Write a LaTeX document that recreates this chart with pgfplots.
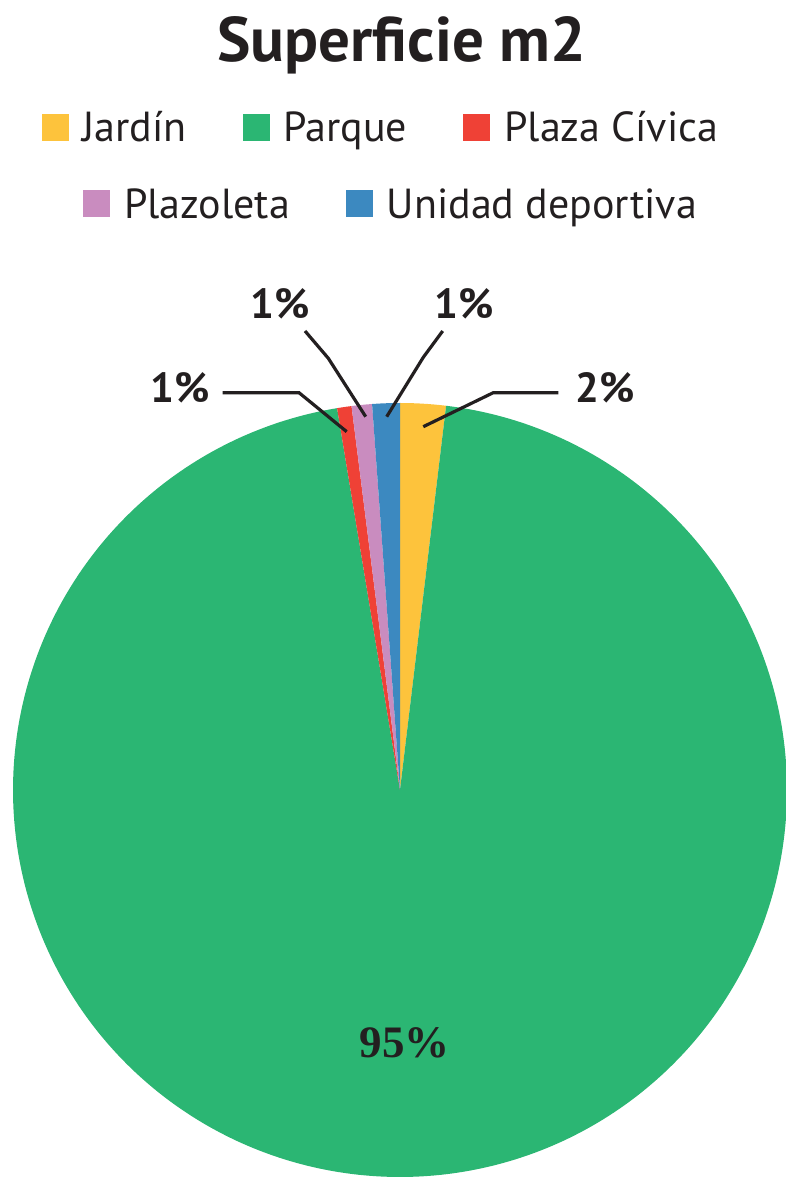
\documentclass[border=0pt]{standalone}
\usepackage{pgfplots}
\pgfplotsset{compat=1.18}
\usepackage{fontspec}
\setmainfont{PT Sans}
\newfontfamily\numserif{Liberation Serif}
\definecolor{cJ}{HTML}{FDC33C}
\definecolor{cP}{HTML}{2BB673}
\definecolor{cC}{HTML}{EF4136}
\definecolor{cZ}{HTML}{C98CBF}
\definecolor{cU}{HTML}{3C89C0}
\definecolor{txt}{HTML}{231F20}
% slice values (percent of total surface)
\def\vJ{1.9}   % Jardin
\def\vP{95.5}  % Parque
\def\vC{0.6}   % Plaza Civica
\def\vZ{0.85}  % Plazoleta
\def\vU{1.15}  % Unidad deportiva
\pgfmathsetmacro\aJ{90-3.6*\vJ}
\pgfmathsetmacro\aP{\aJ-3.6*\vP}
\pgfmathsetmacro\aC{\aP-3.6*\vC}
\pgfmathsetmacro\aZ{\aC-3.6*\vZ}
\pgfmathsetmacro\aU{\aZ-3.6*\vU}
\pgfplotsset{
  pieaxis/.style={
    hide axis, scale only axis,
    width=786pt, height=1177pt,
    xmin=0, xmax=786, ymin=-1177, ymax=0,
    clip=true,
    legend image code/.code={\fill[##1] (0pt,-13.5pt) rectangle (27pt,13.5pt);},
    legend style={draw=none, fill=none, inner sep=0pt, outer sep=0pt,
      font=\fontsize{42}{42}\selectfont, text=txt,
      nodes={inner sep=0pt},
      /tikz/every odd column/.append style={column sep=14pt},
      /tikz/every even column/.append style={column sep=56pt, text height=30pt, text depth=0pt}},
    legend cell align=left,
  }
}
\begin{document}
\begin{tikzpicture}
\begin{axis}[pieaxis, legend columns=3,
  legend style={at={(axis cs:41.5,-127.5)}, anchor=west}]
\addplot[draw=none, fill=cJ, forget plot, domain=\aJ:90, samples=30]
  ({400+387*cos(x)}, {-790+387*sin(x)}) -- (axis cs:400,-790) -- cycle;
\addplot[draw=none, fill=cP, forget plot, domain=\aP:\aJ, samples=400]
  ({400+387*cos(x)}, {-790+387*sin(x)}) -- (axis cs:400,-790) -- cycle;
\addplot[draw=none, fill=cC, forget plot, domain=\aC:\aP, samples=20]
  ({400+387*cos(x)}, {-790+387*sin(x)}) -- (axis cs:400,-790) -- cycle;
\addplot[draw=none, fill=cZ, forget plot, domain=\aZ:\aC, samples=20]
  ({400+387*cos(x)}, {-790+387*sin(x)}) -- (axis cs:400,-790) -- cycle;
\addplot[draw=none, fill=cU, forget plot, domain=\aU:\aZ, samples=20]
  ({400+387*cos(x)}, {-790+387*sin(x)}) -- (axis cs:400,-790) -- cycle;
% leader lines
\addplot[forget plot, txt, line width=3.2pt] coordinates {(222.7,-392.7) (299,-392.7) (346.7,-431.7)};
\addplot[forget plot, txt, line width=3.2pt] coordinates {(305,-331) (328.3,-358.3) (365.7,-416.7)};
\addplot[forget plot, txt, line width=3.2pt] coordinates {(442.7,-331) (423.3,-357.3) (386.7,-416.7)};
\addplot[forget plot, txt, line width=3.2pt] coordinates {(558.3,-392.7) (493.3,-392.7) (423.3,-426.7)};
\addlegendimage{fill=cJ, draw=none}\addlegendentry{Jardín}
\addlegendimage{fill=cP, draw=none}\addlegendentry{Parque}
\addlegendimage{fill=cC, draw=none}\addlegendentry{Plaza Cívica}
% texts
\node[anchor=base, text=txt, font=\fontsize{63}{63}\selectfont\bfseries] at (axis cs:402,-62) {Superficie m2};
\node[anchor=base, text=txt, font=\fontsize{42}{42}\selectfont\bfseries] at (axis cs:180.5,-403) {1\%};
\node[anchor=base, text=txt, font=\fontsize{42}{42}\selectfont\bfseries] at (axis cs:280.5,-318.3) {1\%};
\node[anchor=base, text=txt, font=\fontsize{42}{42}\selectfont\bfseries] at (axis cs:464,-318.3) {1\%};
\node[anchor=base, text=txt, font=\fontsize{42}{42}\selectfont\bfseries] at (axis cs:605,-403) {2\%};
\node[anchor=base, text=txt, font=\fontsize{45}{45}\selectfont\numserif\bfseries] at (axis cs:404.5,-1058) {95\%};
\end{axis}
\begin{axis}[pieaxis, legend columns=2,
  legend style={at={(axis cs:83,-204)}, anchor=west}]
\addlegendimage{fill=cZ, draw=none}\addlegendentry{Plazoleta}
\addlegendimage{fill=cU, draw=none}\addlegendentry{Unidad deportiva}
\end{axis}
\pgfresetboundingbox
\path (current axis.south west) rectangle (current axis.north east);
\end{tikzpicture}
\end{document}
